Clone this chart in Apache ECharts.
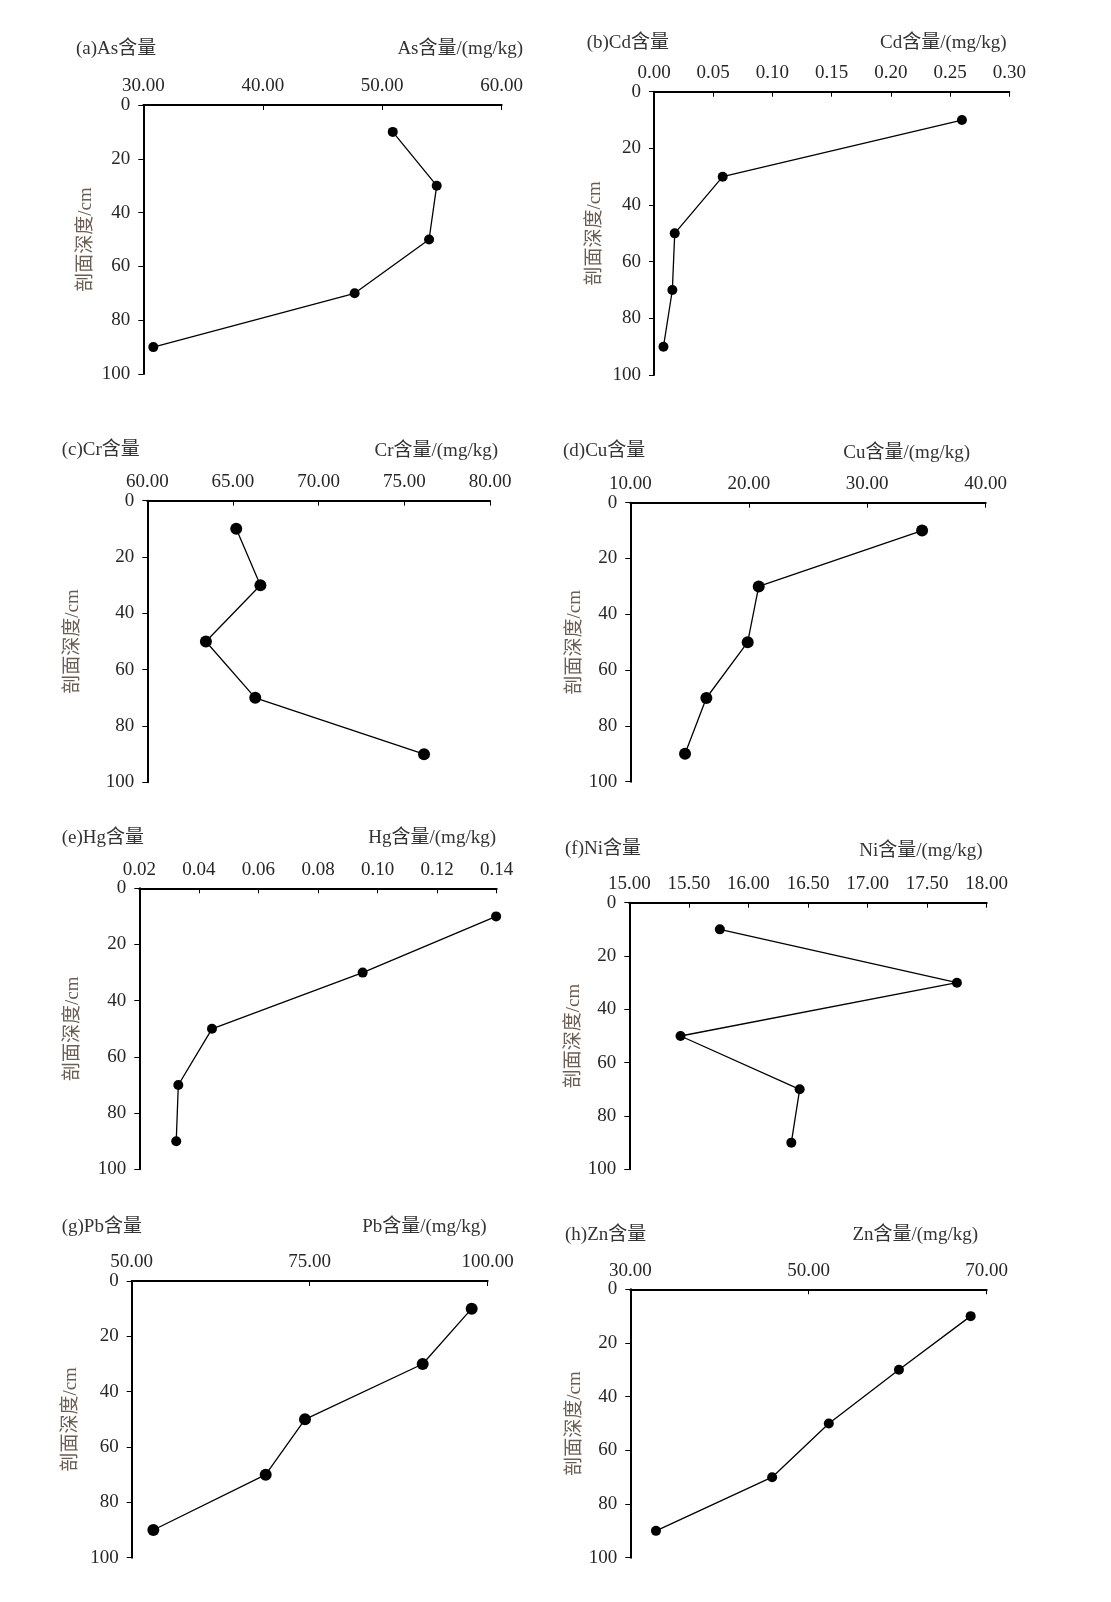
<!DOCTYPE html>
<html>
<head>
<meta charset="utf-8">
<script src="https://cdn.jsdelivr.net/npm/echarts@6/dist/echarts.min.js"></script>
<style>
html,body{margin:0;padding:0;background:#fff;}
#chart{width:1111px;height:1602px;}
</style>
</head>
<body>
<div id="chart"></div>
<script>
// ---- data ----
const depths = [10, 30, 50, 70, 90];
const depthTicks = [0, 20, 40, 60, 80, 100];
const elements = ['As', 'Cd', 'Cr', 'Cu', 'Hg', 'Ni', 'Pb', 'Zn'];
const panelLetters = ['a', 'b', 'c', 'd', 'e', 'f', 'g', 'h'];
const asVals = [50.88, 54.56, 53.92, 47.69, 30.84];
const cdVals = [0.260, 0.058, 0.0175, 0.0155, 0.008];
const crVals = [65.19, 66.60, 63.42, 66.30, 76.15];
const cuVals = [34.63, 20.84, 19.91, 16.42, 14.62];
const hgVals = [0.1398, 0.0950, 0.0444, 0.0331, 0.0324];
const niVals = [15.76, 17.75, 15.43, 16.43, 16.36];
const pbVals = [97.75, 90.87, 74.34, 68.82, 53.04];
const znVals = [68.20, 60.15, 52.28, 45.92, 32.88];
const xMins = [30, 0, 60, 10, 0.02, 15, 50, 30];
const xMaxs = [60, 0.30, 80, 40, 0.14, 18, 100, 70];
const xSteps = [10, 0.05, 5, 10, 0.02, 0.5, 25, 20];
const yAxisName = '剖面深度/cm';

// ---- layout (positions / styles) ----
const allVals = [asVals, cdVals, crVals, cuVals, hgVals, niVals, pbVals, znVals];
const grids = [
  {left: 143.3, top: 105, width: 358.4, height: 269},
  {left: 654, top: 91.7, width: 355.3, height: 283.3},
  {left: 147.3, top: 500.7, width: 342.7, height: 281.6},
  {left: 630.3, top: 502.7, width: 355.4, height: 279},
  {left: 139.3, top: 888.3, width: 357.4, height: 281},
  {left: 629.3, top: 902.7, width: 357.4, height: 266.6},
  {left: 131.7, top: 1281, width: 356, height: 276.7},
  {left: 630.3, top: 1289.3, width: 356.4, height: 268.4}
];
const nameGaps = [48, 49, 65, 39, 57, 39, 51, 40];
const symSizes = [10, 10, 12, 12, 10, 10, 12, 10];
const titlePos = [
  [76, 49, 523, 49],
  [586.7, 42.7, 1006.7, 43.3],
  [61.7, 450, 498, 451],
  [563, 450.7, 970, 453],
  [61.7, 838, 496, 838],
  [565, 849, 982.7, 851],
  [61.7, 1227, 486.7, 1227],
  [565, 1235, 978, 1235]
];

const FONT = "'Liberation Serif', 'Times New Roman', 'Noto Sans CJK SC', serif";
const FS = 19;
const TXT = '#262626';

const option = {
  backgroundColor: '#fff',
  animation: false,
  grid: [], xAxis: [], yAxis: [], series: [], graphic: []
};

for (let i = 0; i < 8; i++) {
  option.grid.push(Object.assign({containLabel: false}, grids[i]));
  option.xAxis.push({
    gridIndex: i, type: 'value', position: 'top',
    min: xMins[i], max: xMaxs[i], interval: xSteps[i],
    axisLine: {show: true, lineStyle: {color: '#000', width: 2}},
    axisTick: {show: true, inside: true, length: 5, lineStyle: {color: '#000', width: 1}},
    axisLabel: {
      color: TXT, fontFamily: FONT, fontSize: FS, margin: 9,
      formatter: v => Number(v).toFixed(2)
    },
    splitLine: {show: false}
  });
  option.yAxis.push({
    gridIndex: i, type: 'value', inverse: true,
    min: depthTicks[0], max: depthTicks[depthTicks.length - 1], interval: depthTicks[1] - depthTicks[0],
    name: yAxisName, nameLocation: 'middle', nameRotate: 90, nameGap: nameGaps[i],
    nameTextStyle: {color: '#6b5d52', fontFamily: FONT, fontSize: FS},
    axisLine: {show: true, lineStyle: {color: '#000', width: 2}},
    axisTick: {show: true, inside: false, length: 5, lineStyle: {color: '#000', width: 1}},
    axisLabel: {color: TXT, fontFamily: FONT, fontSize: FS, margin: 13},
    splitLine: {show: false}
  });
  option.series.push({
    type: 'line', xAxisIndex: i, yAxisIndex: i,
    data: allVals[i].map((v, k) => [v, depths[k]]),
    symbol: 'circle', symbolSize: symSizes[i],
    itemStyle: {color: '#000'},
    lineStyle: {color: '#000', width: 1.3},
    z: 3
  });
  const tp = titlePos[i];
  option.graphic.push({
    type: 'text', x: tp[0], y: tp[1],
    style: {text: '(' + panelLetters[i] + ')' + elements[i] + '含量', font: FS + 'px ' + FONT,
      fill: '#333', textAlign: 'left', textVerticalAlign: 'middle'}
  });
  option.graphic.push({
    type: 'text', x: tp[2], y: tp[3],
    style: {text: elements[i] + '含量/(mg/kg)', font: FS + 'px ' + FONT,
      fill: '#333', textAlign: 'right', textVerticalAlign: 'middle'}
  });
}

const chart = echarts.init(document.getElementById('chart'), null, {renderer: 'canvas'});
chart.setOption(option);
</script>
</body>
</html>
